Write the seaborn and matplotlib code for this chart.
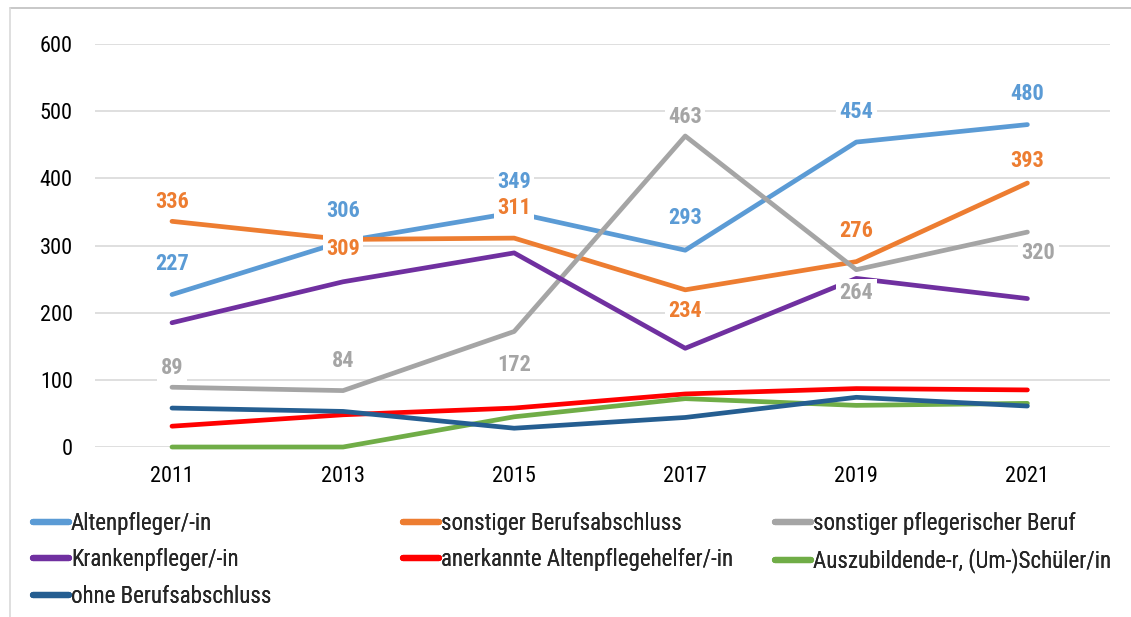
import matplotlib
matplotlib.use("Agg")
import matplotlib.pyplot as plt
import seaborn as sns
import pandas as pd
from matplotlib import font_manager
from matplotlib.lines import Line2D

# ---------------- data ----------------
years = [2011, 2013, 2015, 2017, 2019, 2021]
series_names = [
    "Altenpfleger/-in",
    "sonstiger Berufsabschluss",
    "sonstiger pflegerischer Beruf",
    "Krankenpfleger/-in",
    "anerkannte Altenpflegehelfer/-in",
    "Auszubildende-r, (Um-)Schüler/in",
    "ohne Berufsabschluss",
]
altenpfleger = [227, 306, 349, 293, 454, 480]
sonstiger_berufsabschluss = [336, 309, 311, 234, 276, 393]
sonstiger_pflegerischer_beruf = [89, 84, 172, 463, 264, 320]
krankenpfleger = [185, 246, 289, 147, 251, 221]
altenpflegehelfer = [31, 48, 58, 79, 87, 85]
auszubildende = [0, 0, 45, 72, 62, 65]
ohne_berufsabschluss = [58, 53, 28, 44, 74, 61]
y_ticks = [0, 100, 200, 300, 400, 500, 600]

values = [altenpfleger, sonstiger_berufsabschluss, sonstiger_pflegerischer_beruf,
          krankenpfleger, altenpflegehelfer, auszubildende, ohne_berufsabschluss]
colors = ["#5B9BD5", "#ED7D31", "#A5A5A5", "#7030A0", "#FF0000", "#70AD47", "#255E91"]

# label placement (points, vertical offset; positive = above)
label_offsets = {
    0: [(0, 22), (0, 22), (0, 22), (0, 23), (0, 22), (0, 22)],
    1: [(0, 14), (0, -7), (0, 22), (0, -15), (0, 22), (0, 16)],
    2: [(0, 14), (0, 21), (0, -24), (0, 14), (0, -17), (8, -15)],
}

df = pd.DataFrame({
    "Jahr": [y for _ in series_names for y in years],
    "Wert": [v for vals in values for v in vals],
    "Serie": [n for n in series_names for _ in years],
})

# ---------------- fonts ----------------
sns.set_theme(style="white")
available = {f.name for f in font_manager.fontManager.ttflist}
narrow = next((f for f in ["Liberation Sans Narrow", "Arial Narrow", "Roboto Condensed"]
               if f in available), "Liberation Sans")
plt.rcParams["font.family"] = [narrow, "DejaVu Sans"]

fig = plt.figure(figsize=(11.31, 6.17), dpi=100)
ax = fig.add_axes([0.084, 0.2755, 0.897, 0.6532])

for name, col in zip(series_names, colors):
    sub = df[df["Serie"] == name]
    sns.lineplot(data=sub, x="Jahr", y="Wert", ax=ax, color=col, linewidth=3.4,
                 label=name, legend=False, clip_on=False, solid_capstyle="round")

ax.set_xlim(2010.1, 2021.96)
ax.set_ylim(0, 600)
ax.set_yticks(y_ticks)
ax.set_xticks(years)
ax.set_xticklabels([str(y) for y in years])
ax.set_xlabel("")
ax.set_ylabel("")
ax.grid(axis="y", color="#D9D9D9", linewidth=1.2, zorder=0)
ax.grid(axis="x", visible=False)
ax.set_axisbelow(True)
for s in ax.spines.values():
    s.set_visible(False)
ax.tick_params(axis="both", length=0, labelsize=16, colors="#000000")
ax.tick_params(axis="y", pad=16)
ax.tick_params(axis="x", pad=14)

# data labels
for si, offs in label_offsets.items():
    for x, v, (dx, dy) in zip(years, values[si], offs):
        ax.annotate(str(v), (x, v), xytext=(dx, dy), textcoords="offset points",
                    ha="center", va="center", fontsize=16, fontweight="bold",
                    color=colors[si], zorder=10,
                    bbox=dict(boxstyle="square,pad=0.15", fc="white", ec="none"))

# legends (three columns, row-wise order)
lines = ax.get_lines()
cols = [[0, 3, 6], [1, 4], [2, 5]]
col_x = [33 / 1131, 403 / 1131, 775 / 1131]
for cx, idxs in zip(col_x, cols):
    leg = fig.legend([lines[i] for i in idxs], [series_names[i] for i in idxs],
                     loc="upper left", bbox_to_anchor=(cx, 0.170), frameon=False,
                     fontsize=16.5, borderpad=0, borderaxespad=0, handlelength=1.55,
                     handletextpad=0.1, labelspacing=0.58)
    for h in leg.get_lines():
        h.set_linewidth(4.5)
    fig.add_artist(leg)

# chart frame (top and left edges only, as in the cropped original)
fig.add_artist(Line2D([10 / 1131, 1.0], [1 - 8 / 617, 1 - 8 / 617],
                      transform=fig.transFigure, color="#BFBFBF", linewidth=1.2))
fig.add_artist(Line2D([10 / 1131, 10 / 1131], [0.0, 1 - 8 / 617],
                      transform=fig.transFigure, color="#D9D9D9", linewidth=1.2))

fig.savefig("out.png", dpi=100)
